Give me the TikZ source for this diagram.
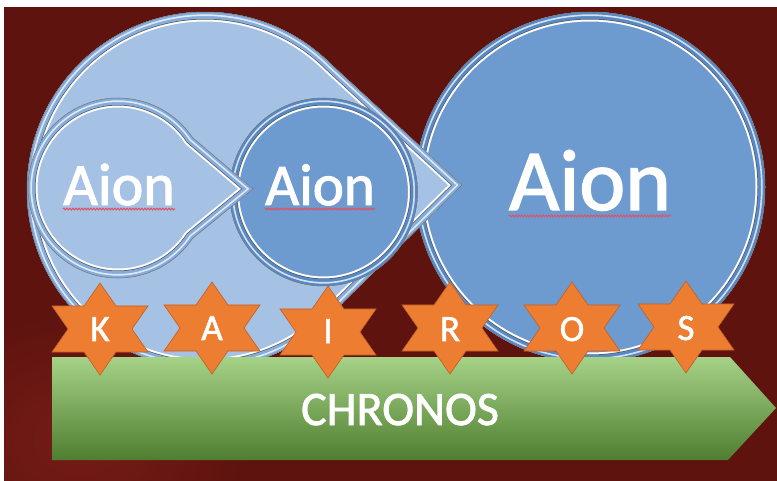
\documentclass[tikz,border=0pt]{standalone}
\usepackage{fontspec}
\setmainfont{Carlito}
\newfontfamily\heavyish[FakeBold=1.6]{Carlito}
\usetikzlibrary{calc,decorations.pathmorphing}
\definecolor{bg}{RGB}{94,19,14}
\definecolor{bgl}{RGB}{118,28,23}
\definecolor{lfill}{RGB}{165,194,228}
\definecolor{lrim}{RGB}{132,172,220}
\definecolor{dfill}{RGB}{109,155,207}
\definecolor{drim}{RGB}{86,137,198}
\definecolor{starfill}{RGB}{237,125,49}
\definecolor{staredge}{RGB}{190,95,38}
\definecolor{gtop}{RGB}{165,210,135}
\definecolor{gmid}{RGB}{112,173,71}
\definecolor{gbot}{RGB}{80,126,48}
\definecolor{squig}{RGB}{222,82,100}
\newcommand{\bevelpath}[3]{%
  \fill[#2] #1;
  \begin{scope}
    \clip #1;
    \draw[white, line width=19pt] #1;
    \draw[black!65, line width=15pt] #1;
    \draw[#3, line width=13.6pt] #1;
    \draw[white!75!#3, line width=8pt] #1;
    \draw[#3, line width=4.6pt] #1;
  \end{scope}
  \draw[black!55, line width=0.5pt] #1;
}
\tikzset{
  aion/.style={text=white, inner sep=0pt, anchor=base},
  letter/.style={text=white, inner sep=0pt, anchor=base, font=\heavyish\fontsize{37}{37}\selectfont},
  squiggle/.style={squig, line width=1pt, decorate, decoration={snake, amplitude=0.9pt, segment length=3pt}},
  hexstar/.pic={
    \filldraw[fill=starfill, draw=staredge, line width=0.6pt]
      (0,-46) -- (16,-23) -- (48,-23) -- (32,0) -- (48,23) -- (16,23) -- (0,46)
      -- (-16,23) -- (-48,23) -- (-32,0) -- (-48,-23) -- (-16,-23) -- cycle;
  }
}
\begin{document}
\begin{tikzpicture}[x=1pt,y=-1pt]
\useasboundingbox (0,0) rectangle (777,481);
\fill[white] (0,0) rectangle (777,481);
\fill[bg] (4,7) rectangle (777,481);
\begin{scope}
  \clip (4,7) rectangle (777,481);
  \shade[inner color=bgl, outer color=bg] (80,440) ellipse[x radius=170, y radius=130];
\end{scope}

% third circle
\bevelpath{(590,187) circle[radius=175]}{dfill}{drim}
% big background shape with tail
\bevelpath{($(205,190)+(39:178)$) arc[start angle=39, end angle=315, radius=178] -- (462,185) -- cycle}{lfill}{lrim}
% second circle
\bevelpath{(323.5,192) circle[radius=94]}{dfill}{drim}
% first circle with tail
\bevelpath{($(118,188)+(34:90)$) arc[start angle=34, end angle=326, radius=90] -- (253,189) -- cycle}{lfill}{lrim}

\node[aion, font=\heavyish\fontsize{60}{60}\selectfont] (t1) at (119,205) {Aion};
\node[aion, font=\heavyish\fontsize{59}{59}\selectfont] (t2) at (320,205) {Aion};
\node[aion, font=\heavyish\fontsize{87}{87}\selectfont] (t3) at (590,210) {Aion};
\draw[squiggle] ($(t1.base west)+(0,4)$) -- ($(t1.base east)+(0,4)$);
\draw[squiggle] ($(t2.base west)+(0,4)$) -- ($(t2.base east)+(0,4)$);
\draw[squiggle] ($(t3.base west)+(0,6)$) -- ($(t3.base east)+(0,6)$);

% chronos arrow
\shade[top color=gtop, middle color=gmid, bottom color=gbot]
  (52,357) -- (730,357) -- (776,408) -- (728,460) -- (52,460) -- cycle;
\node[aion, font=\heavyish\fontsize{48}{48}\selectfont] (chr) at (400,425) {CHRONOS};

% kairos stars
\pic at (100,329) {hexstar};
\pic at (212,328) {hexstar};
\pic at (328,332) {hexstar};
\pic at (450,328) {hexstar};
\pic at (572,328) {hexstar};
\pic at (686,327) {hexstar};
\node[letter] (k1) at (100,341) {K};
\node[letter] (k2) at (212,340) {A};
\node[letter] (k3) at (328,343) {I};
\node[letter] (k4) at (450,341) {R};
\node[letter] (k5) at (572,341) {O};
\node[letter] (k6) at (686,340) {S};
\end{tikzpicture}
\end{document}
